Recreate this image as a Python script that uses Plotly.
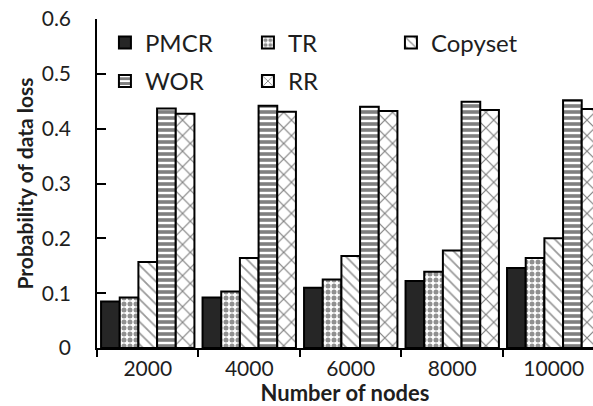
import plotly.graph_objects as go

categories = ["2000", "4000", "6000", "8000", "10000"]
pmcr = [0.085, 0.092, 0.110, 0.122, 0.146]
tr = [0.092, 0.103, 0.125, 0.139, 0.164]
copyset = [0.157, 0.164, 0.168, 0.178, 0.200]
wor = [0.437, 0.442, 0.440, 0.449, 0.452]
rr = [0.427, 0.431, 0.432, 0.434, 0.436]

FONT = "Lato"
TXT = "#1e1e1e"

series = [
    ("PMCR", pmcr, dict(shape="", fillmode="replace"), "#262626", "legend"),
    ("TR", tr, dict(shape=".", fgcolor="#222222", bgcolor="white", size=6, solidity=0.55), "white", "legend"),
    ("Copyset", copyset, dict(shape="\\", fgcolor="#333333", bgcolor="white", size=8, solidity=0.22), "white", "legend"),
    ("WOR", wor, dict(shape="-", fgcolor="#000000", bgcolor="white", size=6, solidity=0.6), "white", "legend2"),
    ("RR", rr, dict(shape="x", fgcolor="#000000", bgcolor="white", size=11, solidity=0.2), "white", "legend2"),
]

fig = go.Figure()
for name, vals, pat, col, lg in series:
    fig.add_trace(go.Bar(
        x=categories, y=vals, name=name, legend=lg,
        marker=dict(color=col, pattern=pat, line=dict(color="black", width=2)),
    ))

legend_common = dict(
    orientation="h", xref="paper", yref="paper", xanchor="left", yanchor="middle",
    bgcolor="rgba(0,0,0,0)", font=dict(family=FONT, size=24, color=TXT),
    entrywidthmode="pixels", entrywidth=98, itemwidth=30,
)

fig.update_layout(
    width=593, height=406,
    margin=dict(l=97, r=0, t=19, b=57.5),
    paper_bgcolor="white", plot_bgcolor="white",
    barmode="group", bargap=0.08, bargroupgap=0,
    font=dict(family=FONT, color=TXT),
    legend=dict(x=0.016, y=0.927, **legend_common),
    legend2=dict(x=0.016, y=0.81, **legend_common),
    xaxis=dict(
        type="category", range=[-0.5, 4.387],
        showline=True, linecolor="black", linewidth=1.5,
        ticks="outside", tickson="boundaries", ticklen=7, tickcolor="black", tickwidth=1.5,
        ticklabelstandoff=1,
        tickfont=dict(family=FONT, size=21, color=TXT),
        title=dict(text="<b>Number of nodes</b>", font=dict(family=FONT, size=22, color=TXT), standoff=1),
        showgrid=False, zeroline=False,
    ),
    yaxis=dict(
        range=[0, 0.6], tickvals=[0, 0.1, 0.2, 0.3, 0.4, 0.5, 0.6],
        ticktext=["0", "0.1", "0.2", "0.3", "0.4", "0.5", "0.6"],
        showline=True, linecolor="black", linewidth=1.5,
        ticks="inside", ticklen=9, tickcolor="black", tickwidth=1.5,
        ticklabelstandoff=20,
        tickfont=dict(family=FONT, size=21, color=TXT),
        title=dict(text="<b>Probability of data loss</b>", font=dict(family=FONT, size=21, color=TXT), standoff=2),
        showgrid=False, zeroline=False,
    ),
)

fig.write_html("out.html")
